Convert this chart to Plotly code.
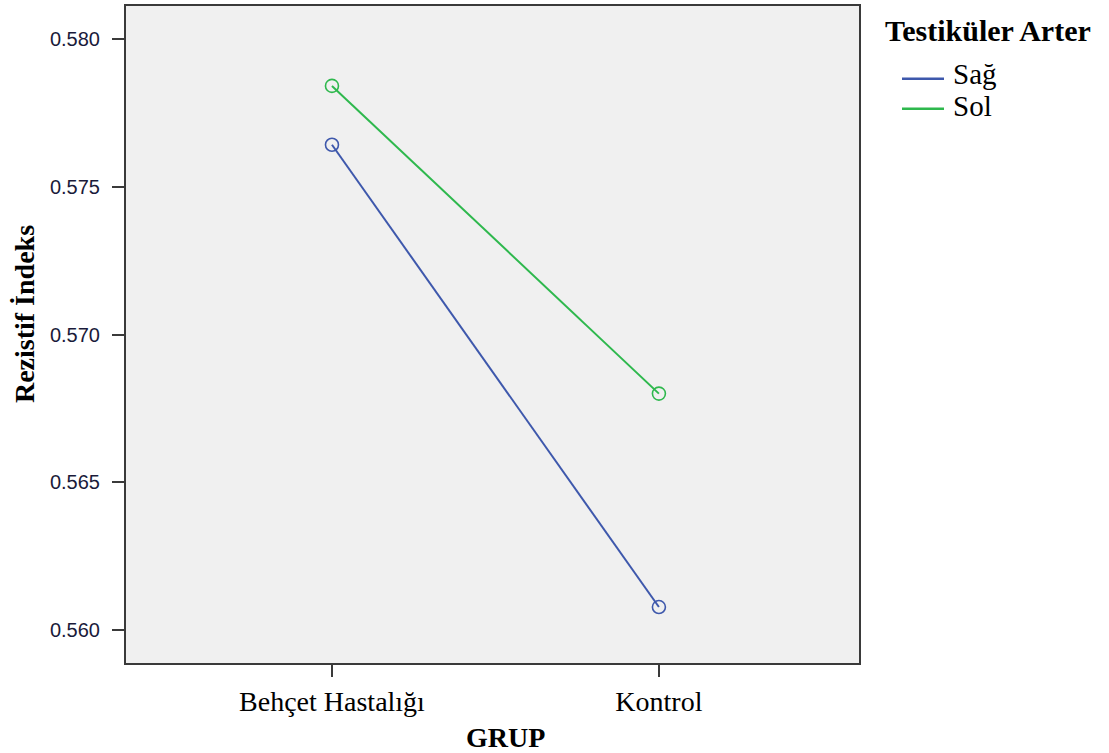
import plotly.graph_objects as go

# Estimated marginal means of resistive index by group and testicular artery side
groups = ["Behçet Hastalığı", "Kontrol"]
sag_values = [0.57642, 0.56078]
sol_values = [0.57841, 0.56800]
series_names = ["Sağ", "Sol"]
series_colors = ["#3e58ac", "#2eb84d"]
y_tick_values = [0.560, 0.565, 0.570, 0.575, 0.580]
y_tick_labels = ["0.560", "0.565", "0.570", "0.575", "0.580"]

serif = "Liberation Serif, Times New Roman, serif"
sans = "Liberation Sans, Arial, sans-serif"

fig = go.Figure()
for name, vals, col in zip(series_names, [sag_values, sol_values], series_colors):
    fig.add_trace(go.Scatter(
        x=groups, y=vals, mode="lines+markers", name=name,
        line=dict(color=col, width=2),
        marker=dict(symbol="circle-open", size=13, color=col, line=dict(width=1.6)),
        showlegend=False,
    ))

L, R, T, B = 126, 859, 4, 663
W, H = 1109, 753
pw, ph = R - L, B - T


def px(x):
    return (x - L) / pw


def py(y):
    return (B - y) / ph


annotations = [
    dict(text="<b>GRUP</b>", x=px(505), y=py(738), xref="paper", yref="paper",
         xanchor="center", yanchor="middle", showarrow=False,
         font=dict(family=serif, size=28, color="#000")),
    dict(text="<b>Rezistif İndeks</b>", x=px(24), y=py(313), xref="paper", yref="paper",
         xanchor="center", yanchor="middle", showarrow=False, textangle=-90,
         font=dict(family=serif, size=28, color="#000")),
    dict(text="<b>Testiküler Arter</b>", x=px(883), y=py(29), xref="paper", yref="paper",
         xanchor="left", yanchor="middle", showarrow=False,
         font=dict(family=serif, size=30, color="#000")),
]

shapes = []
legend_rows = [(72, 77), (104, 107)]
for name, col, (ty, ly) in zip(series_names, series_colors, legend_rows):
    annotations.append(dict(text=name, x=px(951), y=py(ty), xref="paper", yref="paper",
                            xanchor="left", yanchor="middle", showarrow=False,
                            font=dict(family=serif, size=29, color="#000")))
    shapes.append(dict(type="line", xref="paper", yref="paper",
                       x0=px(902), x1=px(944), y0=py(ly), y1=py(ly),
                       line=dict(color=col, width=2.5)))

fig.update_layout(
    width=W, height=H,
    margin=dict(l=L, r=W - R, t=T, b=H - B),
    paper_bgcolor="white",
    plot_bgcolor="#f0f0f0",
    showlegend=False,
    annotations=annotations,
    shapes=shapes,
)

fig.update_xaxes(
    type="category", range=[-0.630, 1.612],
    showgrid=False, zeroline=False,
    showline=True, mirror=True, linecolor="#3a3a3a", linewidth=2,
    ticks="outside", ticklen=12, tickwidth=2, tickcolor="#3a3a3a",
    tickfont=dict(family=serif, size=28, color="#000"),
)
fig.update_yaxes(
    range=[0.558887, 0.581113],
    tickvals=y_tick_values, ticktext=y_tick_labels,
    showgrid=False, zeroline=False,
    showline=True, mirror=True, linecolor="#3a3a3a", linewidth=2,
    ticks="outside", ticklen=12, tickwidth=2, tickcolor="#3a3a3a",
    ticklabelstandoff=8,
    tickfont=dict(family=sans, size=20, color="#1a1a3a"),
)

fig.write_html("out.html")
